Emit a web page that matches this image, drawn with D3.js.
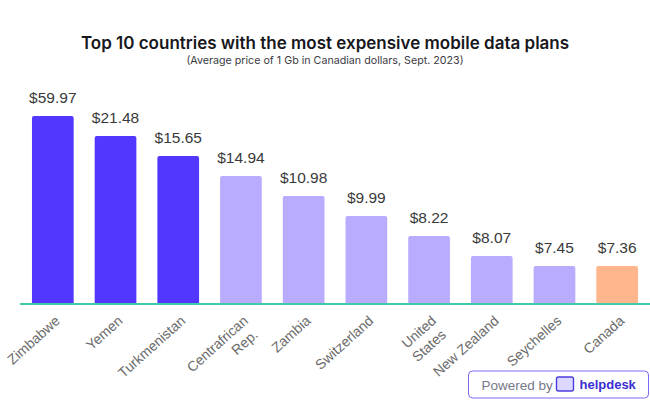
<!DOCTYPE html>
<html>
<head>
<meta charset="utf-8">
<script src="https://cdnjs.cloudflare.com/ajax/libs/d3/7.8.5/d3.min.js"></script>
<style>
  html, body { margin: 0; padding: 0; background: #fff; }
  svg { display: block; font-family: 'Liberation Sans', Arial, sans-serif; }
</style>
</head>
<body>
<svg id="root" width="650" height="403"></svg>
<script>
var countries = ['Zimbabwe', 'Yemen', 'Turkmenistan', 'Centrafrican\nRep.', 'Zambia',
  'Switzerland', 'United\nStates', 'New Zealand', 'Seychelles', 'Canada'];
var prices = [59.97, 21.48, 15.65, 14.94, 10.98, 9.99, 8.22, 8.07, 7.45, 7.36];
// the bars in the picture are stepped, not proportional to price: these are their read-off levels
var barLevels = [187, 167, 147, 127, 107, 87, 67, 47, 37, 37];
var groups = ['top', 'top', 'top', 'mid', 'mid', 'mid', 'mid', 'mid', 'mid', 'home'];

var svg = d3.select('#root');
var baseY = 303;

var x = d3.scaleBand().domain(countries).range([21.5, 648.5]).paddingInner(0.335).paddingOuter(0.167);
var y = d3.scaleLinear().domain([0, 187]).range([baseY, 116]);
var color = d3.scaleOrdinal().domain(['top', 'mid', 'home']).range(['#5238ff', '#b9acff', '#ffb68c']);

svg.append('text').attr('x', 325).attr('y', 49).attr('text-anchor', 'middle')
  .attr('font-family', 'Inter').attr('font-size', 17).attr('font-weight', 600).attr('fill', '#17171c')
  .text('Top 10 countries with the most expensive mobile data plans');
svg.append('text').attr('x', 325).attr('y', 64).attr('text-anchor', 'middle')
  .attr('font-family', 'Inter').attr('font-size', 10.7).attr('fill', '#3c3c44')
  .text('(Average price of 1 Gb in Canadian dollars, Sept. 2023)');

// bars with rounded tops only
svg.selectAll('.bar').data(countries).enter().append('path')
  .attr('class', 'bar')
  .attr('fill', function(d, i) { return color(groups[i]); })
  .attr('d', function(d, i) {
    var x0 = x(d), x1 = x0 + x.bandwidth(), top = y(barLevels[i]), r = 2;
    return 'M' + x0 + ',' + baseY + 'V' + (top + r) + 'Q' + x0 + ',' + top + ' ' + (x0 + r) + ',' + top
      + 'H' + (x1 - r) + 'Q' + x1 + ',' + top + ' ' + x1 + ',' + (top + r) + 'V' + baseY + 'Z';
  });

svg.selectAll('.price').data(countries).enter().append('text')
  .attr('class', 'price')
  .attr('x', function(d) { return x(d) + x.bandwidth() / 2; })
  .attr('y', function(d, i) { return y(barLevels[i]) - 13; })
  .attr('text-anchor', 'middle').attr('font-size', 15.5).attr('fill', '#3a3a3a')
  .text(function(d, i) { return '$' + prices[i].toFixed(2); });

svg.append('line').attr('x1', 20).attr('x2', 650).attr('y1', baseY + 1).attr('y2', baseY + 1)
  .attr('stroke', '#3fcba8').attr('stroke-width', 2);

// rotated country labels, anchored at their end under each bar
var labels = svg.selectAll('.country').data(countries).enter().append('text')
  .attr('class', 'country')
  .attr('text-anchor', 'end').attr('font-size', 14).attr('fill', '#6b6b6b')
  .attr('transform', function(d) {
    return 'translate(' + (x(d) + x.bandwidth() / 2 + 8) + ',322) rotate(-42)';
  });
labels.selectAll('tspan').data(function(d) { return d.split('\n'); }).enter().append('tspan')
  .attr('x', function(d, i) { return i ? -2 : 0; })
  .attr('dy', function(d, i) { return i ? 17 : 0; })
  .text(function(d) { return d; });

// badge in the corner
var badge = svg.append('g').attr('transform', 'translate(468.5,371)');
badge.append('rect').attr('width', 180).attr('height', 27).attr('rx', 4)
  .attr('fill', '#fff').attr('stroke', '#7a6cf0').attr('stroke-width', 1);
badge.append('text').attr('x', 13).attr('y', 18.5).attr('font-size', 13.5).attr('fill', '#77778a').text('Powered by');
badge.append('rect').attr('x', 88).attr('y', 6).attr('width', 17).attr('height', 14).attr('rx', 2)
  .attr('fill', '#dcd8ff').attr('stroke', '#4a3de0').attr('stroke-width', 1.4);
badge.append('text').attr('x', 111).attr('y', 18).attr('font-size', 13).attr('font-weight', 700).attr('fill', '#3a2fd0').text('helpdesk');
</script>
</body>
</html>
